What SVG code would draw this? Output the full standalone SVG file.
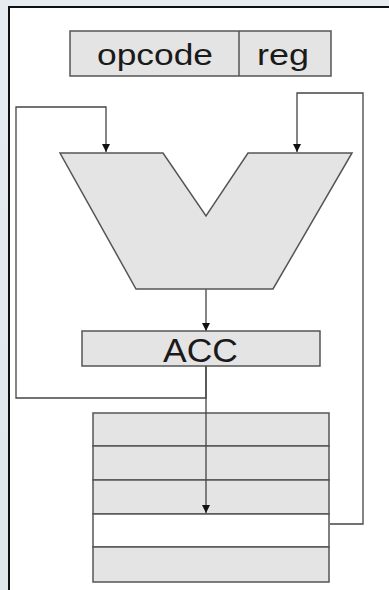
<svg xmlns="http://www.w3.org/2000/svg" width="389" height="590" viewBox="0 0 389 590">
<defs>
<linearGradient id="bg" x1="0" y1="0" x2="0" y2="1">
<stop offset="0" stop-color="#e6ecef"/>
<stop offset="1" stop-color="#dfe7eb"/>
</linearGradient>
<marker id="ah" markerUnits="userSpaceOnUse" markerWidth="10" markerHeight="10" viewBox="0 0 10 10" refX="9" refY="5" orient="auto">
<path d="M1,1 L9,5 L1,9 Z" fill="#111"/>
</marker>
</defs>
<style>
.shape{fill:#e4e4e4;stroke:#555;stroke-width:1.5}
.white{fill:#ffffff;stroke:#555;stroke-width:1.5}
.conn{fill:none;stroke:#444;stroke-width:1.3}
.lbl{font-family:"Liberation Sans",Arial,sans-serif;fill:#1a1a1a}
</style>
<rect x="0" y="0" width="389" height="590" fill="url(#bg)"/>
<rect x="9" y="7" width="380" height="583" fill="#ffffff"/>
<path d="M9,590 L9,7 L389,7" fill="none" stroke="#111" stroke-width="2"/>

<g id="connectors">
<path class="conn" d="M206,366 L206,398 L16,398 L16,107 L106,107 L106,152" marker-end="url(#ah)"/>
<path class="conn" d="M330,524 L363,524 L363,93 L297,93 L297,152" marker-end="url(#ah)"/>
<path class="conn" d="M206,289 L206,331" marker-end="url(#ah)"/>
</g>

<g id="instruction">
<rect class="shape" x="70" y="31" width="261" height="45"/>
<line x1="239" y1="31" x2="239" y2="76" stroke="#555" stroke-width="1.5"/>
<text class="lbl" x="97" y="65" font-size="30" textLength="116" lengthAdjust="spacingAndGlyphs">opcode</text>
<text class="lbl" x="257" y="65" font-size="30" textLength="52" lengthAdjust="spacingAndGlyphs">reg</text>
</g>

<g id="alu">
<polygon class="shape" points="60,153 163,153 206,216 248,153 352,153 273,289 136,289"/>
</g>

<g id="acc">
<rect class="shape" x="82" y="331" width="238" height="35"/>
<text class="lbl" x="163" y="362" font-size="33" textLength="75" lengthAdjust="spacingAndGlyphs">ACC</text>
</g>

<g id="memory">
<rect class="shape" x="93" y="413" width="236" height="33"/>
<rect class="shape" x="93" y="446" width="236" height="34"/>
<rect class="shape" x="93" y="480" width="236" height="34"/>
<rect class="white" x="93" y="514" width="236" height="33"/>
<rect class="shape" x="93" y="547" width="236" height="35"/>
</g>
<path class="conn" d="M206,366 L206,513" marker-end="url(#ah)"/>
</svg>
